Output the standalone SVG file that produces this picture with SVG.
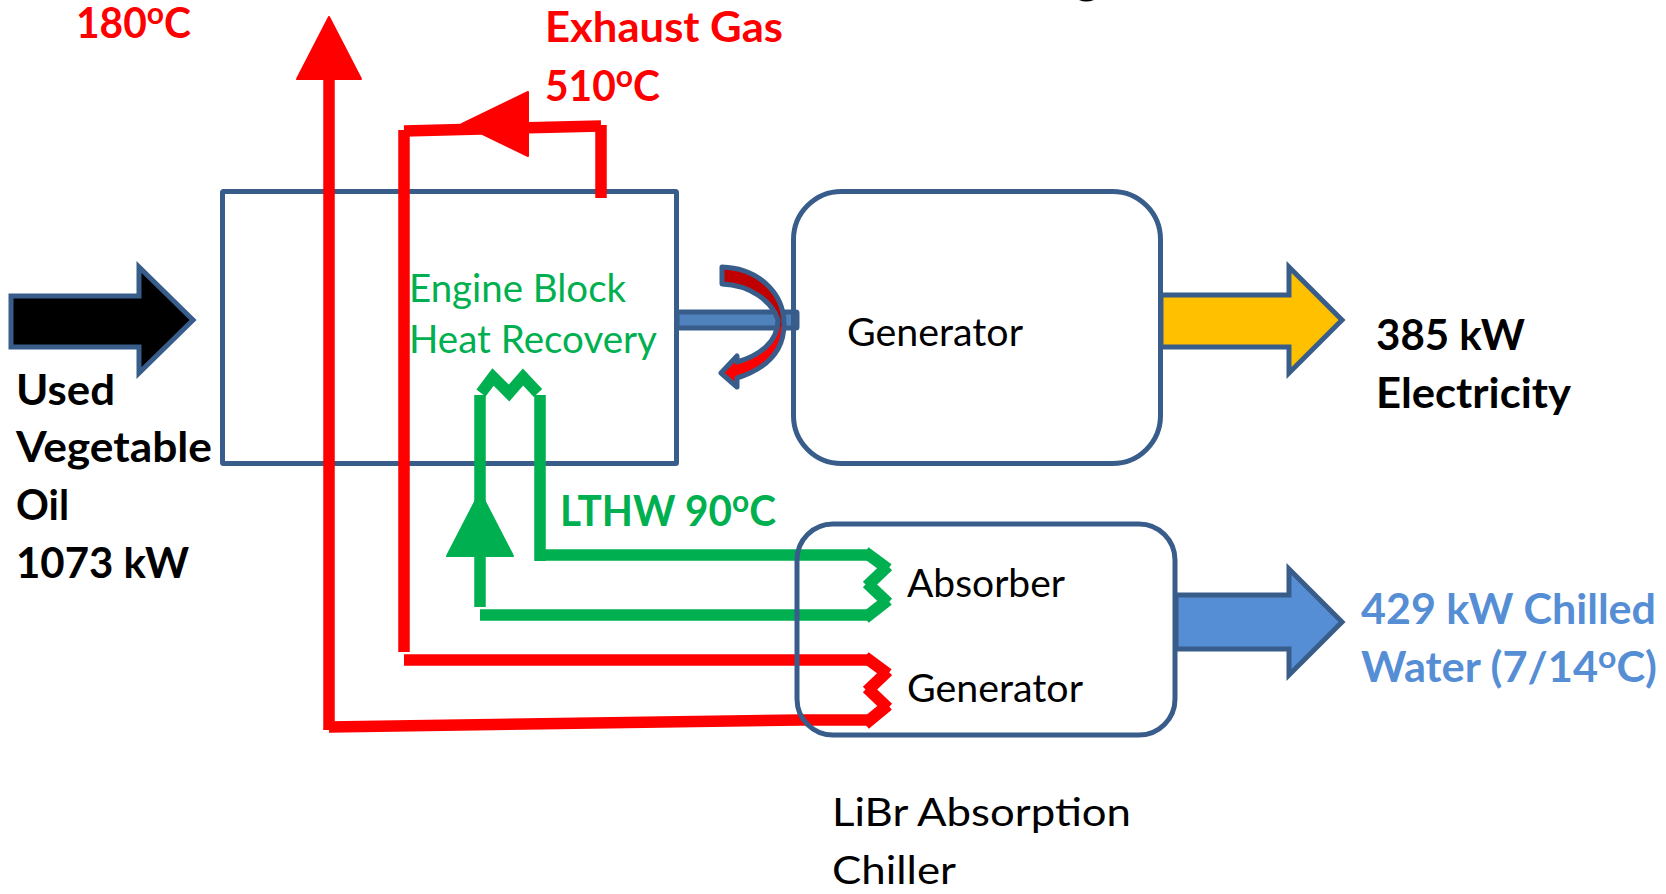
<svg xmlns="http://www.w3.org/2000/svg" width="1666" height="894" viewBox="0 0 1666 894">
<style>
text{font-family:Lato,"Liberation Sans",sans-serif;font-size:39px}
.b{font-weight:700;font-size:42px}
.k{fill:#000}.r{fill:#f00}.g{fill:#00b050}.c{fill:#558ed5}
.box{fill:none;stroke:#385d8a;stroke-width:5}
.arrow{stroke:#385d8a;stroke-width:5;stroke-linejoin:miter}
.pr{fill:none;stroke:#f00;stroke-width:11.5;stroke-linejoin:miter}
.pg{fill:none;stroke:#00b050;stroke-width:11.5;stroke-linejoin:miter}
.zr{fill:none;stroke:#f00;stroke-width:12}
.zg{fill:none;stroke:#00b050;stroke-width:12}
.s{font-size:31px}
</style>
<defs>
<linearGradient id="turn" x1="0" y1="0" x2="0" y2="1"><stop offset="0.5" stop-color="#c00000"/><stop offset="0.5" stop-color="#f00"/></linearGradient>
</defs>
<path d="M1079,0 Q1086,3 1094,0 Z" fill="#000"/>
<g id="engine"><rect class="box" x="222.5" y="191.5" width="454" height="272" rx="1"/>
<text class="g" x="409" y="302" textLength="217" lengthAdjust="spacingAndGlyphs">Engine Block</text>
<text class="g" x="409" y="353" textLength="248" lengthAdjust="spacingAndGlyphs">Heat Recovery</text></g>
<g id="shaft"><rect x="677" y="312" width="120" height="16" rx="1" fill="#4f81bd" stroke="#385d8a" stroke-width="5"/></g>
<g id="rotation"><path d="M722,267 C757,268 784,292 784,324 C784,352 765,369 737,378 L737,387 L721,373 L737,356 L737,362 C758,356 778,343 778,320 C772,301 750,285 722,284 Z" fill="url(#turn)" stroke="#385d8a" stroke-width="5" stroke-linejoin="round"/></g>
<g id="generator"><rect class="box" x="793.5" y="191.5" width="367" height="272" rx="48"/>
<text class="k" x="847" y="346" textLength="176" lengthAdjust="spacingAndGlyphs">Generator</text></g>
<g id="connectors">
<path class="pr" d="M601,198V125"/>
<path class="pr" d="M601,126L404,131"/>
<path class="pr" d="M404,130V652"/>
<polygon points="462,124 528,92 528,156" fill="#f00" stroke="#f00" stroke-width="2" stroke-linejoin="round"/>
<path class="pr" d="M329,730V70"/>
<polygon points="329,17 297,79 361,79" fill="#f00" stroke="#f00" stroke-width="2" stroke-linejoin="round"/>
<path class="pr" d="M329,727L800,720H867"/>
<path class="pr" d="M404,660H867"/>
<path class="zr" d="M865,657L888,674M888,671L867,691M867,688L888,708M888,705L865,724"/>
<path class="pg" d="M480,395V607"/>
<polygon points="480,492 447,556 513,556" fill="#00b050" stroke="#00b050" stroke-width="2" stroke-linejoin="round"/>
<path class="pg" d="M540,395V561"/>
<path class="pg" d="M540,555H867"/>
<path class="pg" d="M480,615H867"/>
<path class="zg" d="M865,552L888,569M888,566L867,586M867,583L888,603M888,600L865,618"/>
<path class="pg" d="M481,393L493,377L509,393L523,377L538,393" stroke-width="11"/>
</g>
<g id="chiller"><rect class="box" x="797" y="524" width="378" height="211" rx="36"/>
<text class="k" x="907" y="597" textLength="158" lengthAdjust="spacingAndGlyphs">Absorber</text>
<text class="k" x="907" y="702" textLength="176" lengthAdjust="spacingAndGlyphs">Generator</text></g>
<g id="fuel-arrow"><polygon class="arrow" points="11,296 139,296 139,267 193,320 139,373 139,347 11,347" fill="#000"/></g>
<g id="power-arrow"><polygon class="arrow" points="1161,295 1289,295 1289,267 1342,320 1289,373 1289,347 1161,347" fill="#ffc000"/></g>
<g id="chilled-arrow"><polygon class="arrow" points="1176,595 1289,595 1289,569 1342,622 1289,675 1289,649 1176,649" fill="#558ed5"/></g>
<g id="labels">
<text class="b r" x="76" y="38" textLength="115" lengthAdjust="spacingAndGlyphs">180<tspan class="s" dy="-14">o</tspan><tspan dy="14">C</tspan></text>
<text class="b r" x="545" y="42" textLength="238" lengthAdjust="spacingAndGlyphs">Exhaust Gas</text>
<text class="b r" x="545" y="101" textLength="115" lengthAdjust="spacingAndGlyphs">510<tspan class="s" dy="-14">o</tspan><tspan dy="14">C</tspan></text>
<text class="b k" x="16" y="405" textLength="99" lengthAdjust="spacingAndGlyphs">Used</text>
<text class="b k" x="16" y="462" textLength="196" lengthAdjust="spacingAndGlyphs">Vegetable</text>
<text class="b k" x="16" y="520" textLength="53" lengthAdjust="spacingAndGlyphs">Oil</text>
<text class="b k" x="16" y="578" textLength="173" lengthAdjust="spacingAndGlyphs">1073 kW</text>
<text class="b g" x="560" y="526" textLength="216" lengthAdjust="spacingAndGlyphs">LTHW 90<tspan class="s" dy="-14">o</tspan><tspan dy="14">C</tspan></text>
<text class="b k" x="1376" y="350" textLength="149" lengthAdjust="spacingAndGlyphs">385 kW</text>
<text class="b k" x="1376" y="408" textLength="195" lengthAdjust="spacingAndGlyphs">Electricity</text>
<text class="b c" x="1361" y="624" textLength="295" lengthAdjust="spacingAndGlyphs">429 kW Chilled</text>
<text class="b c" x="1361" y="682" textLength="296" lengthAdjust="spacingAndGlyphs">Water (7/14<tspan class="s" dy="-14">o</tspan><tspan dy="14">C)</tspan></text>
<text class="k" x="832" y="826" textLength="299" lengthAdjust="spacingAndGlyphs">LiBr Absorption</text>
<text class="k" x="832" y="884" textLength="124" lengthAdjust="spacingAndGlyphs">Chiller</text>
</g>
</svg>
